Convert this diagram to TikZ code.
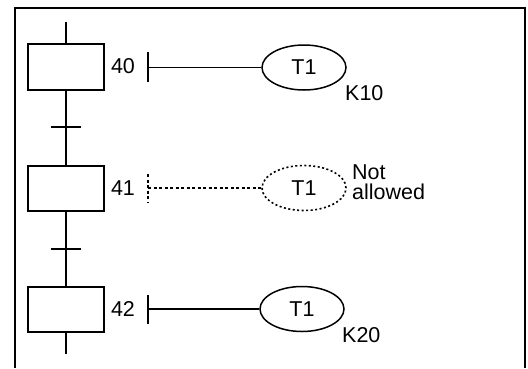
\documentclass[tikz,border=0pt]{standalone}
\usepackage{fontspec}
\setmainfont{Liberation Sans}
\usetikzlibrary{shapes.geometric}
\begin{document}
\begin{tikzpicture}[x=1pt,y=-1pt,
  stepbox/.style={draw, line width=1.6pt, minimum width=76pt, minimum height=45.5pt, inner sep=0pt},
  coil/.style={ellipse, line width=1.5pt, minimum width=84pt, minimum height=45pt, inner sep=0pt, font=\fontsize{21.5}{22}\selectfont},
  lbl/.style={font=\fontsize{21.5}{20}\selectfont, inner sep=0pt},
  wire/.style={line width=1.6pt},
  dwire/.style={line width=1.6pt, dash pattern=on 3pt off 2.5pt},
  dotline/.style={line width=1.6pt, dash pattern=on 2pt off 2.5pt},
  ]
\useasboundingbox (0,0) rectangle (528,368);
% frame
\coordinate (fbl) at (15,368);
\coordinate (ftl) at (15,8);
\coordinate (ftr) at (525,8);
\coordinate (fbr) at (525,368);
\draw[line width=2.4pt] (fbl) -- (ftl) -- (ftr) -- (fbr);
% steps
\node[stepbox] (s40) at (66,67) {};
\node[stepbox] (s41) at (66,188.5) {};
\node[stepbox] (s42) at (66,309.5) {};
\coordinate (top) at (66,22);
\coordinate (bot) at (66,354);
\draw[wire] (top) -- (s40.north);
\draw[wire] (s40.south) -- (s41.north);
\draw[wire] (s41.south) -- (s42.north);
\draw[wire] (s42.south) -- (bot);
% transitions
\coordinate (t1l) at (51,127); \coordinate (t1r) at (81,127);
\coordinate (t2l) at (51,249); \coordinate (t2r) at (81,249);
\draw[wire] (t1l) -- (t1r);
\draw[wire] (t2l) -- (t2r);
% step labels
\node[lbl] (n40) at (123,66) {40};
\node[lbl] (n41) at (123,188) {41};
\node[lbl] (n42) at (123,309) {42};
% actions
\coordinate (a40t) at (148,52); \coordinate (a40b) at (148,82); \coordinate (a40) at (148,67.5);
\coordinate (a41t) at (148,174); \coordinate (a41b) at (148,202); \coordinate (a41) at (148,188);
\coordinate (a42t) at (148,295); \coordinate (a42b) at (148,324); \coordinate (a42) at (148,309);
\node[coil, draw] (c40) at (304,67.5) {T1};
\node[coil, draw=none] (c41) at (304,188) {T1};
\node[coil, draw] (c42) at (302,309) {T1};
\draw[dotline] (c41.center) ellipse [x radius=42pt, y radius=22.5pt];
\draw[wire] (a40t) -- (a40b);
\draw[wire] (a40) -- (c40.west);
\draw[dwire] (a41t) -- (a41b);
\draw[dwire] (a41) -- (c41.west);
\draw[wire] (a42t) -- (a42b);
\draw[wire] (a42) -- (c42.west);
% constants
\node[lbl, anchor=west] (k10) at (345,93) {K10};
\node[lbl, anchor=west] (k20) at (342,335) {K20};
\node[lbl, anchor=north west, align=left] (na) at (352,165) {Not\\allowed};
\end{tikzpicture}
\end{document}
